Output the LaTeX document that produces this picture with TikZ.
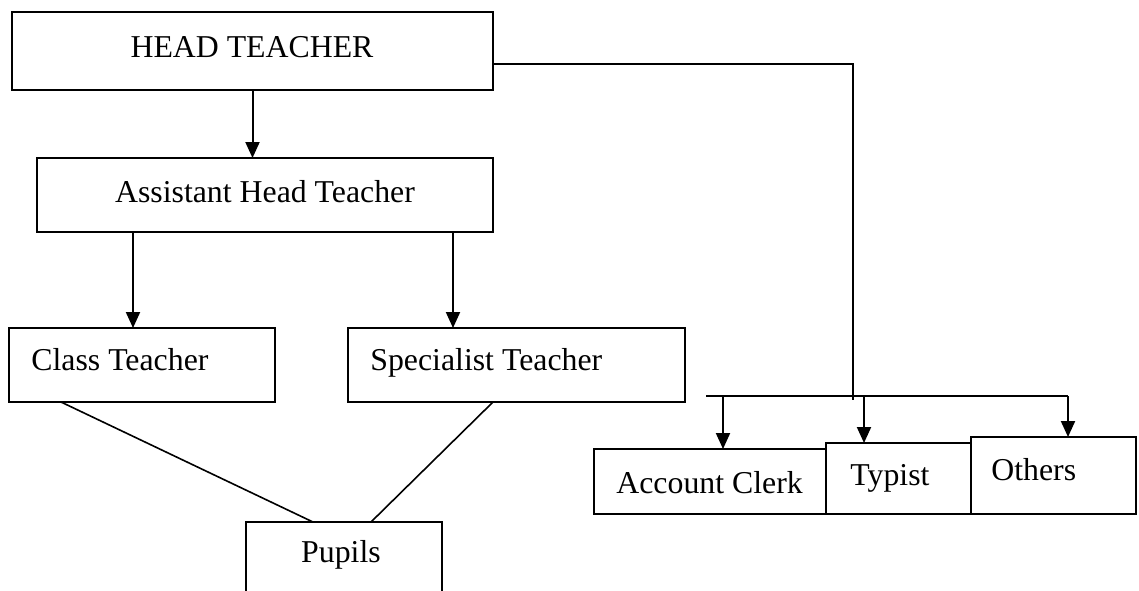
\documentclass[tikz,border=0pt]{standalone}
\usepackage{fontspec}
\setmainfont{Liberation Serif}
\usetikzlibrary{arrows.meta}
\begin{document}
\begin{tikzpicture}[x=0.5pt,y=-0.5pt,
  box/.style={draw=black, line width=1pt, rectangle, inner sep=0pt, outer sep=0pt},
  lbl/.style={inner sep=0pt, font=\fontsize{15.9}{19}\selectfont},
  conn/.style={draw=black, line width=1pt},
  slant/.style={draw=black, line width=0.8pt},
  arr/.style={draw=black, line width=1pt, -{Triangle[length=8pt,width=7pt]}}]
\useasboundingbox (0,0) rectangle (1139,590);
\fill[white] (0,0) rectangle (1139,590);
\clip (0,0) rectangle (1139,590);
% boxes
\node[box, minimum width=240.5pt, minimum height=39pt] (head) at (252.5,51) {};
\node[box, minimum width=228pt, minimum height=37pt] (asst) at (265,195) {};
\node[box, minimum width=133pt, minimum height=37pt] (class) at (142,365) {};
\node[box, minimum width=168.5pt, minimum height=37pt] (spec) at (516.5,365) {};
\node[box, minimum width=98pt, minimum height=39pt] (pupils) at (344,561) {};
\node[box, minimum width=116pt, minimum height=32.5pt] (acct) at (710,481.5) {};
\node[box, minimum width=72.5pt, minimum height=35.5pt] (typist) at (898.5,478.5) {};
\node[box, minimum width=82.5pt, minimum height=38.5pt] (others) at (1053.5,475.5) {};
% labels
\node[lbl, anchor=base] (tHead) at (252,57) {HEAD TEACHER};
\node[lbl, anchor=base] (tAsst) at (265,202) {Assistant Head Teacher};
\node[lbl, anchor=base west] (tClass) at (31,370) {Class Teacher};
\node[lbl, anchor=base west] (tSpec) at (370,370) {Specialist Teacher};
\node[lbl, anchor=base] (tPup) at (341,562) {Pupils};
\node[lbl, anchor=base west] (tAcct) at (616,493) {Account Clerk};
\node[lbl, anchor=base west] (tTyp) at (850,485) {Typist};
\node[lbl, anchor=base west] (tOth) at (991,480) {Others};
% helper coordinates
\coordinate (hr) at (493,64);
\coordinate (bj) at (853,400);
\coordinate (busL) at (706,396);
\coordinate (busR) at (1068,396);
\coordinate (a1) at (723,396);
\coordinate (a2) at (864,396);
\coordinate (x1) at (133,0);
\coordinate (x2) at (453,0);
\coordinate (cl) at (61,0);
\coordinate (pl) at (313,0);
\coordinate (sr) at (493,0);
\coordinate (pr) at (371,0);
% connectors
\draw[arr] (head.south) -- (head.south |- asst.north);
\draw[arr] (asst.south -| x1) -- (class.north -| x1);
\draw[arr] (asst.south -| x2) -- (spec.north -| x2);
\draw[slant] (class.south -| cl) -- (pupils.north -| pl);
\draw[slant] (spec.south -| sr) -- (pupils.north -| pr);
\draw[conn] (head.east |- hr) -| (bj);
\draw[conn] (busL) -- (busR);
\draw[arr] (a1) -- (a1 |- acct.north);
\draw[arr] (a2) -- (a2 |- typist.north);
\draw[arr] (busR) -- (busR |- others.north);
\end{tikzpicture}
\end{document}
